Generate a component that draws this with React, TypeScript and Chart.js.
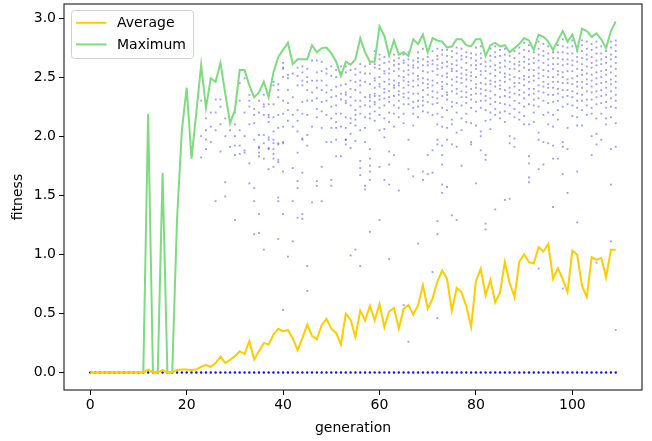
import React, { useEffect, useRef } from "react";
import { Chart, registerables } from "chart.js";

Chart.register(...registerables);

// ---- data ----
const average: number[] = [
  0, 0, 0, 0, 0, 0, 0, 0, 0, 0, 0, 0,
  0.025, 0, 0, 0.02, 0, 0.005, 0.02, 0.025, 0.025, 0.02, 0.025, 0.048,
  0.062, 0.048, 0.08, 0.135, 0.08, 0.107, 0.138, 0.18, 0.157, 0.265, 0.11, 0.18,
  0.25, 0.236, 0.32, 0.37, 0.35, 0.36, 0.29, 0.19, 0.29, 0.405, 0.31, 0.28,
  0.4, 0.456, 0.37, 0.335, 0.236, 0.498, 0.447, 0.3, 0.523, 0.44, 0.565, 0.44,
  0.58, 0.385, 0.517, 0.545, 0.37, 0.54, 0.57, 0.49, 0.57, 0.74, 0.54, 0.625,
  0.77, 0.863, 0.793, 0.523, 0.715, 0.678, 0.56, 0.383, 0.776, 0.878, 0.652, 0.785,
  0.593, 0.678, 0.934, 0.757, 0.639, 0.937, 1.0, 0.934, 0.922, 1.06, 1.024, 1.089,
  0.793, 0.883, 0.79, 0.68, 1.032, 0.996, 0.734, 0.639, 0.976, 0.953, 0.97, 0.805,
  1.038, 1.038,
];

const maximum: number[] = [
  0, 0, 0, 0, 0, 0, 0, 0, 0, 0, 0, 0,
  2.19, 0, 0, 1.69, 0, 0, 1.3, 2.05, 2.41, 1.81, 2.2, 2.605,
  2.24, 2.49, 2.46, 2.62, 2.36, 2.11, 2.22, 2.56, 2.56, 2.43, 2.33, 2.37,
  2.46, 2.33, 2.54, 2.67, 2.73, 2.79, 2.61, 2.65, 2.65, 2.65, 2.77, 2.71,
  2.745, 2.75, 2.7, 2.63, 2.51, 2.63, 2.605, 2.65, 2.83, 2.71, 2.63, 2.63,
  2.93, 2.85, 2.68, 2.81, 2.69, 2.71, 2.68, 2.82, 2.78, 2.86, 2.71, 2.83,
  2.81, 2.8, 2.75, 2.76, 2.82, 2.82, 2.77, 2.76, 2.82, 2.82, 2.68, 2.77,
  2.79, 2.76, 2.77, 2.71, 2.745, 2.78, 2.83, 2.81, 2.73, 2.86, 2.84, 2.8,
  2.73, 2.81, 2.89, 2.8, 2.86, 2.73, 2.91, 2.89, 2.84, 2.87, 2.82, 2.745,
  2.89, 2.97,
];

// individual (non-zero) fitness values, one list per generation
const population: number[][] = [
  [], [], [], [], [], [], [], [], [], [], [], [],
  [], [], [], [], [], [], [], [], [], [], [],
  [1.82, 2.0, 2.3],
  [1.97, 1.89, 2.05, 2.15],
  [2.08, 1.95, 2.2],
  [1.45, 2.05, 2.2, 2.31],
  [1.87, 2.31, 2.1, 2.25],
  [1.61, 1.49, 2.0, 2.15],
  [1.91, 2.05],
  [1.92, 1.84, 1.29, 2.0, 2.1, 2.2],
  [1.92, 1.85, 2.05, 2.3, 2.45],
  [1.88, 1.86, 2.0, 2.2, 2.49],
  [1.77, 1.6, 2.1, 2.3, 2.25, 2.35],
  [1.56, 1.45, 1.17, 2.23, 2.18, 2.11, 1.97],
  [1.91, 1.86, 1.83, 1.34, 1.18, 2.01, 1.9, 2.2, 2.3],
  [1.94, 1.81, 1.04, 2.27, 2.25, 2.18, 2.01, 2.35],
  [1.9, 1.72, 2.27, 2.18, 2.16, 2.12, 1.99, 1.97, 1.89],
  [1.97, 1.85, 1.81, 1.74, 2.46, 2.43, 2.27, 2.16, 2.04, 1.94, 1.89],
  [1.94, 1.8, 1.78, 1.48, 1.45, 1.13, 2.44, 2.39, 2.33, 2.18, 2.07, 1.93],
  [1.94, 1.7, 1.34, 0.53, 2.62, 2.58, 2.57, 2.5, 2.3, 2.19, 2.08, 1.95],
  [0.98, 2.52, 2.49, 2.39, 2.28, 2.22, 2.13],
  [1.73, 1.45, 1.11, 2.62, 2.53, 2.33, 2.18, 2.08],
  [1.86, 1.62, 1.56, 1.31, 2.58, 2.51, 2.43, 2.22, 2.13, 2.04],
  [1.97, 1.69, 1.34, 1.3, 2.59, 2.54, 2.47, 2.43, 2.29, 2.19, 1.98],
  [1.92, 0.9, 0.69, 2.57, 2.5, 2.46, 2.39, 2.3, 2.18, 2.01],
  [1.44, 2.64, 2.47, 2.37, 2.3, 2.08],
  [1.62, 1.58, 2.64, 2.54, 2.47, 2.41, 2.32, 2.23, 2.16],
  [1.74, 1.45, 2.63, 2.55, 2.47, 2.39, 2.29, 2.21, 2.07],
  [1.95, 2.57, 2.53, 2.43, 2.37, 2.3, 2.18],
  [1.95, 1.63, 1.58, 2.59, 2.51, 2.39, 2.33, 2.25, 2.15, 2.07],
  [1.97, 1.83, 2.63, 2.56, 2.5, 2.42, 2.34, 2.26, 2.19, 2.12, 2.07],
  [1.83, 2.59, 2.54, 2.43, 2.36, 2.31, 2.19, 2.08],
  [1.97, 1.93, 2.59, 2.54, 2.44, 2.37, 2.35, 2.3, 2.28, 2.16, 2.07, 1.97],
  [1.9, 0.99, 2.56, 2.47, 2.4, 2.33, 2.26, 2.15, 2.11, 2.02],
  [1.96, 1.04, 2.57, 2.52, 2.46, 2.39, 2.3, 2.22, 2.18, 2.14, 2.09],
  [1.79, 1.73, 1.67, 0.9, 2.61, 2.54, 2.47, 2.43, 2.37, 2.3, 2.25, 2.19, 2.05],
  [1.95, 1.58, 1.55, 2.59, 2.53, 2.46, 2.33, 2.26, 2.16, 2.07],
  [1.89, 1.81, 1.75, 1.7, 1.63, 1.19, 2.61, 2.53, 2.44, 2.35, 2.33, 2.3, 2.25, 2.19, 2.15],
  [2.72, 2.66, 2.61, 2.58, 2.49, 2.47, 2.41, 2.36, 2.34, 2.29, 2.27, 2.21, 2.13],
  [1.74, 1.29, 2.69, 2.65, 2.6, 2.57, 2.5, 2.44, 2.42, 2.34, 2.31, 2.24, 2.18, 2.05],
  [1.63, 2.67, 2.62, 2.55, 2.53, 2.46, 2.4, 2.37, 2.32, 2.26, 2.15, 2.06, 1.99],
  [1.87, 1.76, 1.59, 0.96, 2.63, 2.57, 2.53, 2.48, 2.44, 2.38, 2.33, 2.29, 2.2, 2.12],
  [1.84, 2.69, 2.64, 2.6, 2.55, 2.47, 2.43, 2.41, 2.34, 2.26, 2.19, 2.08],
  [1.54, 2.66, 2.61, 2.57, 2.51, 2.45, 2.43, 2.38, 2.35, 2.3, 2.24, 2.16],
  [0.57, 2.69, 2.64, 2.62, 2.55, 2.5, 2.47, 2.41, 2.36, 2.33, 2.27, 2.19, 2.11],
  [1.97, 1.72, 0.26, 2.71, 2.65, 2.6, 2.56, 2.52, 2.46, 2.43, 2.37, 2.32, 2.27],
  [1.66, 2.64, 2.6, 2.58, 2.53, 2.47, 2.42, 2.36, 2.29, 2.24, 2.19, 2.09],
  [1.09, 2.71, 2.66, 2.63, 2.58, 2.51, 2.48, 2.43, 2.36, 2.3, 2.25, 2.16],
  [1.7, 1.63, 2.74, 2.65, 2.6, 2.55, 2.49, 2.45, 2.39, 2.33, 2.3, 2.26, 2.21],
  [1.84, 1.68, 2.67, 2.63, 2.6, 2.54, 2.48, 2.44, 2.41, 2.35, 2.29, 2.2],
  [1.88, 1.69, 0.85, 2.72, 2.64, 2.61, 2.55, 2.47, 2.43, 2.38, 2.33, 2.27, 2.18],
  [1.97, 1.93, 1.28, 1.17, 0.46, 2.74, 2.68, 2.65, 2.6, 2.57, 2.52, 2.45, 2.37, 2.32, 2.28, 2.19, 2.1],
  [1.92, 1.84, 1.76, 1.59, 1.52, 2.73, 2.69, 2.62, 2.58, 2.51, 2.46, 2.42, 2.4, 2.34, 2.24, 2.16, 2.08],
  [1.97, 1.57, 2.73, 2.68, 2.63, 2.59, 2.53, 2.5, 2.44, 2.37, 2.35, 2.31, 2.22, 2.07],
  [1.93, 1.33, 2.72, 2.67, 2.61, 2.57, 2.55, 2.48, 2.43, 2.38, 2.29, 2.25, 2.14, 2.1],
  [1.91, 1.29, 2.75, 2.7, 2.64, 2.6, 2.55, 2.5, 2.46, 2.4, 2.36, 2.28, 2.2, 2.03],
  [1.75, 2.74, 2.68, 2.65, 2.58, 2.53, 2.49, 2.45, 2.38, 2.33, 2.26, 2.15, 2.05],
  [2.71, 2.67, 2.62, 2.56, 2.52, 2.48, 2.42, 2.37, 2.33, 2.28, 2.19, 2.12],
  [1.95, 2.7, 2.66, 2.6, 2.54, 2.51, 2.47, 2.4, 2.35, 2.31, 2.24, 2.11, 1.93],
  [1.6, 2.75, 2.69, 2.64, 2.6, 2.57, 2.5, 2.44, 2.41, 2.36, 2.29, 2.21, 2.09],
  [1.88, 2.76, 2.7, 2.66, 2.61, 2.55, 2.52, 2.45, 2.4, 2.36, 2.3, 2.24, 2.04, 2.0],
  [1.84, 1.8, 1.26, 1.21, 2.63, 2.59, 2.55, 2.49, 2.44, 2.39, 2.34, 2.3, 2.22, 2.13],
  [2.74, 2.68, 2.64, 2.59, 2.53, 2.47, 2.44, 2.38, 2.32, 2.27, 2.2, 2.14, 2.06],
  [1.38, 2.76, 2.71, 2.67, 2.6, 2.56, 2.51, 2.46, 2.42, 2.35, 2.29, 2.23, 2.18],
  [2.73, 2.68, 2.62, 2.58, 2.54, 2.47, 2.43, 2.4, 2.33, 2.28, 2.2, 2.15],
  [1.46, 2.74, 2.69, 2.64, 2.59, 2.53, 2.5, 2.46, 2.39, 2.34, 2.27, 2.21, 2.12],
  [1.94, 1.47, 2.68, 2.63, 2.57, 2.52, 2.48, 2.41, 2.37, 2.33, 2.26, 2.19, 2.0],
  [1.91, 2.72, 2.66, 2.61, 2.57, 2.5, 2.45, 2.42, 2.36, 2.3, 2.23, 2.16, 1.98],
  [2.75, 2.7, 2.63, 2.6, 2.55, 2.49, 2.45, 2.39, 2.35, 2.28, 2.2, 2.14],
  [2.79, 2.73, 2.67, 2.63, 2.58, 2.51, 2.48, 2.43, 2.37, 2.32, 2.25, 2.17, 2.1],
  [1.83, 1.77, 1.65, 1.61, 2.77, 2.72, 2.65, 2.61, 2.56, 2.5, 2.46, 2.4, 2.35, 2.27, 2.1],
  [2.71, 2.66, 2.62, 2.56, 2.51, 2.47, 2.4, 2.36, 2.31, 2.26, 2.2, 2.12],
  [1.97, 1.72, 0.88, 2.8, 2.74, 2.69, 2.64, 2.58, 2.53, 2.49, 2.43, 2.38, 2.32, 2.25, 2.03],
  [1.95, 1.76, 2.78, 2.72, 2.68, 2.62, 2.56, 2.51, 2.46, 2.42, 2.37, 2.3, 2.18],
  [1.94, 2.76, 2.7, 2.65, 2.6, 2.55, 2.5, 2.44, 2.41, 2.35, 2.28, 2.2, 2.1],
  [1.92, 1.81, 1.4, 2.71, 2.66, 2.61, 2.57, 2.5, 2.46, 2.41, 2.35, 2.29, 2.18, 2.08],
  [1.81, 2.77, 2.71, 2.66, 2.61, 2.55, 2.52, 2.46, 2.4, 2.36, 2.3, 2.22, 2.14],
  [1.95, 1.91, 1.68, 0.71, 2.82, 2.76, 2.71, 2.65, 2.6, 2.54, 2.5, 2.45, 2.39, 2.33, 2.25],
  [1.89, 1.52, 2.75, 2.7, 2.65, 2.61, 2.55, 2.48, 2.45, 2.39, 2.34, 2.27, 2.07],
  [2.81, 2.76, 2.7, 2.64, 2.6, 2.55, 2.49, 2.44, 2.38, 2.33, 2.26, 2.17],
  [1.7, 1.27, 2.72, 2.67, 2.63, 2.57, 2.51, 2.46, 2.42, 2.36, 2.3, 2.24, 2.16, 2.09],
  [2.81, 2.77, 2.72, 2.66, 2.61, 2.56, 2.52, 2.46, 2.41, 2.35, 2.3, 2.22, 2.09],
  [2.8, 2.74, 2.69, 2.65, 2.59, 2.53, 2.48, 2.44, 2.38, 2.31, 2.26, 2.18],
  [1.84, 2.78, 2.73, 2.67, 2.62, 2.58, 2.52, 2.47, 2.42, 2.37, 2.31, 2.24, 2.19, 2.0],
  [1.93, 0.93, 2.8, 2.75, 2.7, 2.64, 2.6, 2.54, 2.49, 2.44, 2.38, 2.33, 2.27, 2.15, 2.02],
  [1.97, 2.76, 2.7, 2.65, 2.61, 2.55, 2.5, 2.45, 2.39, 2.34, 2.28, 2.19],
  [2.72, 2.67, 2.62, 2.56, 2.52, 2.46, 2.41, 2.35, 2.29, 2.24, 2.15, 2.1],
  [1.89, 1.59, 1.11, 2.8, 2.75, 2.69, 2.65, 2.59, 2.54, 2.48, 2.44, 2.38, 2.32, 2.25, 2.16],
  [1.91, 0.36, 2.81, 2.77, 2.72, 2.67, 2.62, 2.57, 2.51, 2.46, 2.41, 2.35, 2.3, 2.24, 2.11],
];

const xTicks = [0, 20, 40, 60, 80, 100];
const yTicks = [0, 0.5, 1.0, 1.5, 2.0, 2.5, 3.0];
const seriesLabels = ["Average", "Maximum"];
const seriesColors = ["#ffcc00", "#7ddc7d"];

const FONT = "'DejaVu Sans', sans-serif";

export default function App() {
  const ref = useRef<HTMLCanvasElement>(null);

  useEffect(() => {
    document.body.style.margin = "0";
    const canvas = ref.current;
    if (!canvas) return;

    const avgPts = average.map((v, i) => ({ x: i, y: v }));
    const maxPts = maximum.map((v, i) => ({ x: i, y: v }));
    const popPts = population.flatMap((vals, g) => vals.map((v) => ({ x: g, y: v })));
    const zeroPts = average.map((_, g) => ({ x: g, y: 0 }));

    const framePlugin = {
      id: "frameAndLegend",
      afterDraw(chart: any) {
        const { ctx, chartArea } = chart;
        ctx.save();
        ctx.strokeStyle = "#1a1a1a";
        ctx.lineWidth = 1.1;
        ctx.strokeRect(chartArea.left, chartArea.top, chartArea.right - chartArea.left, chartArea.bottom - chartArea.top);

        // legend box
        const bx = 71.5, by = 10.5, bw = 122, bh = 48, r = 3;
        ctx.beginPath();
        ctx.moveTo(bx + r, by);
        ctx.lineTo(bx + bw - r, by);
        ctx.quadraticCurveTo(bx + bw, by, bx + bw, by + r);
        ctx.lineTo(bx + bw, by + bh - r);
        ctx.quadraticCurveTo(bx + bw, by + bh, bx + bw - r, by + bh);
        ctx.lineTo(bx + r, by + bh);
        ctx.quadraticCurveTo(bx, by + bh, bx, by + bh - r);
        ctx.lineTo(bx, by + r);
        ctx.quadraticCurveTo(bx, by, bx + r, by);
        ctx.closePath();
        ctx.fillStyle = "rgba(255,255,255,0.8)";
        ctx.fill();
        ctx.strokeStyle = "#d0d0d0";
        ctx.lineWidth = 1;
        ctx.stroke();

        const rows = [22.8, 44.4];
        seriesLabels.forEach((label, i) => {
          ctx.beginPath();
          ctx.strokeStyle = seriesColors[i];
          ctx.lineWidth = 2;
          ctx.moveTo(76, rows[i]);
          ctx.lineTo(106.5, rows[i]);
          ctx.stroke();
          ctx.fillStyle = "#000";
          ctx.font = `14px ${FONT}`;
          ctx.textBaseline = "middle";
          ctx.textAlign = "left";
          ctx.fillText(label, 117, rows[i] + 0.5);
        });
        ctx.restore();
      },
    };

    const chart = new Chart(canvas, {
      type: "scatter",
      data: {
        datasets: [
          {
            type: "line",
            label: seriesLabels[0],
            data: avgPts,
            borderColor: seriesColors[0],
            backgroundColor: seriesColors[0],
            borderWidth: 2,
            pointRadius: 0,
            tension: 0,
            showLine: true,
          } as any,
          {
            type: "line",
            label: seriesLabels[1],
            data: maxPts,
            borderColor: seriesColors[1],
            backgroundColor: seriesColors[1],
            borderWidth: 2,
            pointRadius: 0,
            tension: 0,
            showLine: true,
          } as any,
          {
            label: "zero",
            data: zeroPts,
            pointStyle: "circle",
            pointRadius: 1.2,
            backgroundColor: "rgba(0,0,255,0.95)",
            borderWidth: 0,
          },
          {
            label: "population",
            data: popPts,
            pointStyle: "rect",
            pointRadius: 1.3,
            backgroundColor: "rgba(30,30,255,0.45)",
            borderWidth: 0,
          },
        ],
      },
      options: {
        animation: false,
        responsive: false,
        devicePixelRatio: 1,
        events: [],
        layout: { padding: { top: 3, right: 10, left: 0, bottom: 0 } },
        plugins: {
          legend: { display: false },
          tooltip: { enabled: false },
        },
        scales: {
          x: {
            type: "linear",
            min: -5.45,
            max: 114.45,
            afterBuildTicks: (s: any) => {
              s.ticks = xTicks.map((v) => ({ value: v }));
            },
            afterFit: (s: any) => {
              s.height = 51;
              s.paddingLeft = 0;
              s.paddingRight = 0;
            },
            ticks: {
              color: "#000",
              font: { family: FONT, size: 14 },
              padding: 2,
              maxRotation: 0,
              callback: (v: any) => String(v),
            },
            grid: {
              drawOnChartArea: false,
              drawTicks: true,
              tickLength: 5,
              tickColor: "#000",
              tickWidth: 1,
            },
            border: { display: false },
            title: {
              display: true,
              text: "generation",
              color: "#000",
              font: { family: FONT, size: 14 },
              padding: { top: 0, bottom: 4 },
            },
          },
          y: {
            type: "linear",
            min: -0.1485,
            max: 3.1185,
            afterBuildTicks: (s: any) => {
              s.ticks = yTicks.map((v) => ({ value: v }));
            },
            afterFit: (s: any) => {
              s.width = 64;
              s.paddingTop = 0;
              s.paddingBottom = 0;
            },
            ticks: {
              color: "#000",
              font: { family: FONT, size: 14 },
              padding: 3,
              callback: (v: any) => Number(v).toFixed(1),
            },
            grid: {
              drawOnChartArea: false,
              drawTicks: true,
              tickLength: 5,
              tickColor: "#000",
              tickWidth: 1,
            },
            border: { display: false },
            title: {
              display: true,
              text: "fitness",
              color: "#000",
              font: { family: FONT, size: 14 },
              padding: { top: 10, bottom: 0 },
            },
          },
        },
      },
      plugins: [framePlugin],
    } as any);

    return () => chart.destroy();
  }, []);

  return <canvas ref={ref} width={652} height={441} style={{ display: "block" }} />;
}
